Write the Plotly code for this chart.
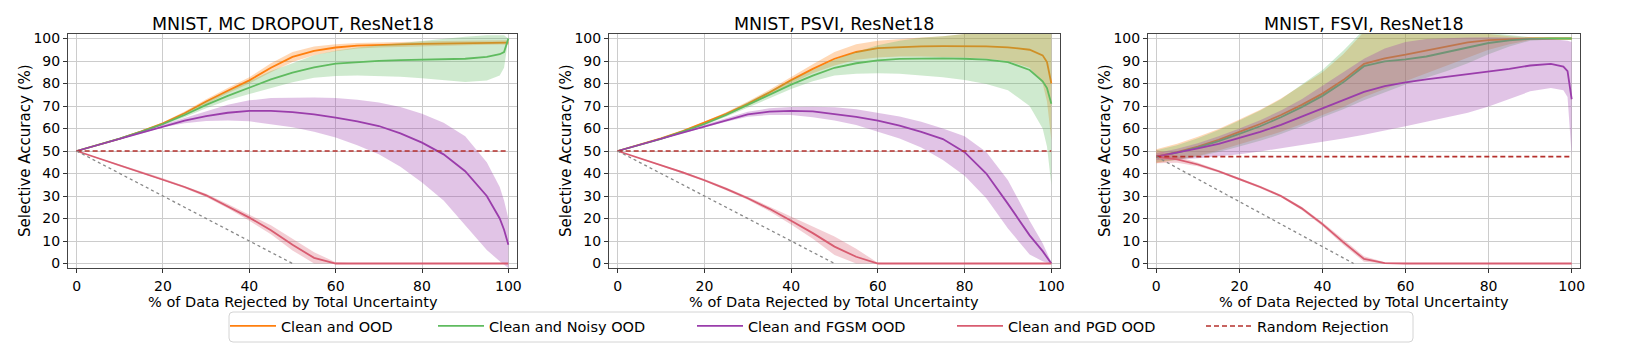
import plotly.graph_objects as go

# % of data rejected (shared x grid for all panels)
X = [0, 5, 10, 15, 20, 25, 30, 35, 40, 45, 50, 55, 60, 65, 70, 75, 80, 85, 90, 95, 98, 99, 100]

titles = ["MNIST, MC DROPOUT, ResNet18", "MNIST, PSVI, ResNet18", "MNIST, FSVI, ResNet18"]
series_names = ["Clean and OOD", "Clean and Noisy OOD", "Clean and FGSM OOD", "Clean and PGD OOD"]
random_name = "Random Rejection"
random_level = [50, 50, 47.5]

# ---- MC dropout ----
mc_ood = [50, 52.7, 55.5, 58.7, 62.3, 66.8, 72, 76.8, 81.4, 87, 91.8, 94.5, 96, 96.8, 97.2, 97.4, 97.6, 97.8, 98, 98.2, 98.2, 98.1, 98.2]
mc_ood_lo = [50, 52.5, 55.2, 58.3, 61.8, 66, 71, 75.7, 80, 85, 89.5, 92.5, 94.3, 95.5, 96, 96.3, 96.5, 96.7, 97, 97.2, 97.3, 97.2, 97.2]
mc_ood_hi = [50, 52.9, 55.8, 59.1, 62.8, 67.5, 73, 78, 82.8, 89, 94, 96.5, 97.5, 98, 98.3, 98.5, 98.7, 98.9, 99, 99.1, 99.2, 99.1, 99.2]
mc_noisy = [50, 52.7, 55.5, 58.6, 62, 66, 70.5, 74.5, 78.1, 81.8, 84.8, 87.2, 88.8, 89.6, 90.1, 90.4, 90.7, 90.8, 91, 91.8, 93, 94, 100]
mc_noisy_lo = [50, 52.5, 55.2, 58.2, 61.5, 65, 69, 72.5, 75.3, 78, 80.5, 82.5, 83.3, 83.5, 83.4, 83, 82.3, 81.5, 80.7, 81.3, 83.5, 87, 100]
mc_noisy_hi = [50, 52.9, 55.8, 59, 62.5, 67, 72, 76.5, 81, 85.5, 89, 92.5, 94.5, 96, 97, 98, 99, 100, 100.8, 101.5, 101.5, 101.5, 100]
mc_fgsm = [50, 52.7, 55.5, 58.3, 61, 63.5, 65.5, 67, 67.8, 67.8, 67.3, 66.3, 64.8, 63.2, 61.1, 57.8, 53.7, 48.5, 41, 30, 20, 15, 8.3]
mc_fgsm_lo = [50, 52.5, 55.1, 57.8, 60.5, 62.3, 63.3, 63.5, 63.2, 62, 60.5, 58.5, 56, 52.5, 48.5, 43, 36, 28, 17, 6, 1, -0.5, -2]
mc_fgsm_hi = [50, 52.9, 55.9, 58.8, 61.5, 64.5, 67.5, 70.5, 72.5, 73.5, 73.7, 73.8, 73.5, 72.8, 71.5, 69.5, 66.5, 62.5, 56.5, 45, 34, 28, 20]
mc_pgd = [50, 46.8, 43.5, 40.5, 37.4, 34, 30.3, 25.5, 20.4, 14.8, 8.3, 2.5, 0, 0, 0, 0, 0, 0, 0, 0, 0, 0, 0]
mc_pgd_lo = [50, 46.5, 43.1, 40, 36.9, 33.4, 29.6, 24.6, 19, 13, 5.8, 0, 0, 0, 0, 0, 0, 0, 0, 0, 0, 0, 0]
mc_pgd_hi = [50, 47.1, 43.9, 41, 37.9, 34.6, 31, 26.4, 21.8, 17, 11, 5, 0.5, 0, 0, 0, 0, 0, 0, 0, 0, 0, 0]

# ---- PSVI ----
ps_ood = [50, 52.7, 55.6, 58.8, 62.5, 66.5, 71, 76, 81.5, 86.5, 91, 94, 95.7, 96.2, 96.5, 96.6, 96.6, 96.5, 96.1, 95, 92.5, 89.5, 80]
ps_ood_lo = [50, 52.5, 55.3, 58.4, 62, 65.8, 70, 74.8, 80, 84.5, 88, 90.5, 91.5, 92, 92, 91.8, 91.5, 91, 90, 87, 80, 72, 55]
ps_ood_hi = [50, 52.9, 55.9, 59.2, 63, 67.2, 72, 77.2, 83, 88.5, 94, 97.5, 99, 99.8, 100.5, 101, 102, 103, 103, 103, 103, 103, 103]
ps_noisy = [50, 52.6, 55.4, 58.6, 62, 66, 70.5, 75, 79.5, 83.5, 87, 89, 90.3, 90.9, 91.1, 91.2, 91, 90.6, 89.5, 86, 81, 78, 71]
ps_noisy_lo = [50, 52.4, 55.1, 58.2, 61.5, 65.2, 69.3, 73.5, 77.5, 81, 83.5, 84.3, 84.5, 84.3, 83.7, 82.8, 81.5, 79.8, 77, 70, 60, 52, 35]
ps_noisy_hi = [50, 52.8, 55.7, 59, 62.5, 66.8, 71.7, 76.5, 81.5, 86, 90.5, 94, 97, 99, 100.3, 101, 102, 102, 102, 102, 102, 102, 102]
ps_fgsm = [50, 52.7, 55.5, 58.3, 61, 63.8, 66.3, 67.5, 67.8, 67.6, 66.5, 65.2, 63.5, 61.3, 58.5, 55.3, 49.5, 40, 26.5, 12.5, 5.5, 3, 0]
ps_fgsm_lo = [50, 52.5, 55.2, 57.9, 60.5, 63, 65.2, 66, 66, 65, 63.5, 61.5, 58.5, 55.5, 51.5, 46, 39, 29, 15.5, 4, 1, 0.3, 0]
ps_fgsm_hi = [50, 52.9, 55.8, 58.7, 61.5, 64.6, 67.4, 69, 69.6, 69.7, 69.4, 68.5, 67, 65.3, 63, 60, 56.5, 49.5, 37, 19, 9, 5, 0.5]
ps_pgd = [50, 46.8, 43.8, 40.5, 37, 33.2, 29, 24.3, 19, 13.5, 7.5, 3, 0, 0, 0, 0, 0, 0, 0, 0, 0, 0, 0]
ps_pgd_lo = [50, 46.6, 43.5, 40.1, 36.5, 32.6, 28.3, 23.2, 17.3, 11, 3.8, 0, 0, 0, 0, 0, 0, 0, 0, 0, 0, 0, 0]
ps_pgd_hi = [50, 47, 44.1, 40.9, 37.5, 33.8, 29.7, 25.3, 20.7, 16.5, 12, 6.5, 0.3, 0, 0, 0, 0, 0, 0, 0, 0, 0, 0]

# ---- FSVI ----
fs_ood = [47.5, 49.5, 52, 55, 58.5, 62, 66, 70.5, 75.5, 81.5, 88.7, 91.2, 92.8, 94.7, 96.5, 98.3, 99.3, 99.8, 100, 100, 100, 100, 100]
fs_ood_lo = [44.5, 46, 47.8, 50.2, 53, 55.7, 58.5, 62, 66, 69.5, 74, 77.5, 81, 84.5, 88, 91.5, 95, 97.5, 99.3, 99.7, 99.7, 99.7, 99.7]
fs_ood_hi = [50.8, 53.2, 56.3, 59.8, 64, 68.3, 73.3, 79, 85, 93, 103, 105, 105, 105, 104, 103, 102, 101, 100.5, 100.3, 100.3, 100.3, 100.3]
fs_noisy = [47.5, 49.3, 51.6, 54.4, 57.6, 61, 65, 69.5, 74.5, 80.5, 87.7, 89.8, 90.7, 92, 94, 96, 98, 99.2, 99.8, 100, 100, 100, 100]
fs_noisy_lo = [45, 46, 47.5, 49.5, 52, 54.5, 57.5, 61, 65, 68.5, 72.5, 76, 79.5, 82.5, 85.5, 89, 93, 96.5, 99, 99.6, 99.6, 99.6, 99.6]
fs_noisy_hi = [50.3, 52.6, 55.7, 59.3, 63.5, 68, 73, 79.5, 86, 94.5, 104, 106, 106, 106, 105, 104, 102.5, 101.5, 100.6, 100.4, 100.4, 100.4, 100.4]
fs_fgsm = [47.5, 49.2, 51.2, 53.2, 55.7, 58.5, 61.6, 65.3, 69, 72.8, 76.3, 78.8, 80.5, 81.8, 83, 84, 85.4, 86.5, 88, 88.7, 87.5, 85.5, 73]
fs_fgsm_lo = [46, 46.2, 46.8, 47.6, 48.6, 49.8, 51.2, 52.6, 54, 55.5, 57.2, 59, 61, 63, 65, 67, 69.8, 73, 76.5, 78, 77, 74, 48]
fs_fgsm_hi = [49, 51, 53.4, 56.5, 60, 63.7, 68, 73, 79, 85, 91, 95.5, 98.5, 99.8, 100.3, 100.5, 100.6, 100.5, 100.3, 99.8, 99.3, 99, 98.5]
fs_pgd = [47.5, 46.3, 44, 41, 37.5, 34, 30, 24.5, 17.5, 9.5, 2, 0.2, 0, 0, 0, 0, 0, 0, 0, 0, 0, 0, 0]
fs_pgd_lo = [44.5, 44.8, 43.2, 40.4, 37, 33.4, 29.4, 23.8, 16.7, 8.3, 0.8, 0, 0, 0, 0, 0, 0, 0, 0, 0, 0, 0, 0]
fs_pgd_hi = [50.5, 47.8, 44.8, 41.6, 38, 34.6, 30.6, 25.2, 18.3, 10.7, 3.2, 0.5, 0.2, 0, 0, 0, 0, 0, 0, 0, 0, 0, 0]

panels = [
    [(mc_ood, mc_ood_lo, mc_ood_hi), (mc_noisy, mc_noisy_lo, mc_noisy_hi),
     (mc_fgsm, mc_fgsm_lo, mc_fgsm_hi), (mc_pgd, mc_pgd_lo, mc_pgd_hi)],
    [(ps_ood, ps_ood_lo, ps_ood_hi), (ps_noisy, ps_noisy_lo, ps_noisy_hi),
     (ps_fgsm, ps_fgsm_lo, ps_fgsm_hi), (ps_pgd, ps_pgd_lo, ps_pgd_hi)],
    [(fs_ood, fs_ood_lo, fs_ood_hi), (fs_noisy, fs_noisy_lo, fs_noisy_hi),
     (fs_fgsm, fs_fgsm_lo, fs_fgsm_hi), (fs_pgd, fs_pgd_lo, fs_pgd_hi)],
]

colors = ["#ff7f0e", "#5fbb5f", "#9a3dab", "#d85c70"]
fills = ["rgba(255,127,14,0.3)", "rgba(95,187,95,0.3)", "rgba(154,61,171,0.3)", "rgba(216,92,112,0.3)"]
random_color = "#b5302c"

# the page body has an 8px margin, so the figure is placed 8px in and shrunk to fit
OFF = 8
W, H = 1644 - OFF, 349 - OFF
frames = [(68, 517), (609, 1060), (1148, 1580)]
y_top, y_bot = 34, 268
font = "DejaVu Sans"
# left edge of each legend handle (page pixels), one legend per entry like matplotlib's columns
legend_starts = [235, 443, 702, 962, 1211]


def px(v):
    return (v - OFF) / W


def py(v):
    return 1 - (v - OFF) / H


def lg(i):
    return "legend" if i == 0 else "legend%d" % (i + 1)


fig = go.Figure()
for p, data in enumerate(panels):
    xa = "x" if p == 0 else "x%d" % (p + 1)
    ya = "y" if p == 0 else "y%d" % (p + 1)
    for s, (mean, lo, hi) in enumerate(data):
        fig.add_trace(go.Scatter(x=X, y=lo, xaxis=xa, yaxis=ya, mode="lines",
                                 line=dict(width=0), showlegend=False, hoverinfo="skip"))
        fig.add_trace(go.Scatter(x=X, y=hi, xaxis=xa, yaxis=ya, mode="lines",
                                 line=dict(width=0), fill="tonexty", fillcolor=fills[s],
                                 showlegend=False, hoverinfo="skip"))
        fig.add_trace(go.Scatter(x=X, y=mean, xaxis=xa, yaxis=ya, mode="lines",
                                 line=dict(color=colors[s], width=1.8),
                                 name=series_names[s], showlegend=(p == 0), legend=lg(s)))
    r = random_level[p]
    fig.add_trace(go.Scatter(x=[0, 100], y=[r, r], xaxis=xa, yaxis=ya, mode="lines",
                             line=dict(color=random_color, width=1.6, dash="5px,3px"),
                             name=random_name, showlegend=(p == 0), legend=lg(4)))
    fig.add_trace(go.Scatter(x=[0, r], y=[r, 0], xaxis=xa, yaxis=ya, mode="lines",
                             line=dict(color="#888888", width=1.3, dash="dot"),
                             showlegend=False, hoverinfo="skip"))

axis_common = dict(showline=True, mirror=True, linecolor="#444444", linewidth=1,
                   showgrid=True, gridcolor="#cccccc", gridwidth=1, zeroline=False,
                   ticks="outside", ticklen=4, tickcolor="#333333", automargin=False,
                   tickfont=dict(family=font, size=14, color="black"))

layout = dict(width=W, height=H, margin=dict(l=0, r=0, t=0, b=0, autoexpand=False),
              plot_bgcolor="white", paper_bgcolor="white",
              font=dict(family=font, color="black"),
              annotations=[], shapes=[])

for i, start in enumerate(legend_starts):
    layout[lg(i)] = dict(orientation="h", x=px(start - 10), xanchor="left", y=py(326), yanchor="middle",
                         bgcolor="rgba(0,0,0,0)", borderwidth=0,
                         font=dict(family=font, size=14.5), itemwidth=46)

# legend frame (rounded corners as in the matplotlib legend)
x0, x1, y0, y1, rad = px(229), px(1413), py(312), py(342), 4
rx, ry = rad / W, rad / H
layout["shapes"].append(dict(
    type="path", xref="paper", yref="paper", line=dict(color="#d4d4d4", width=1),
    path=(f"M{x0 + rx},{y0} L{x1 - rx},{y0} Q{x1},{y0} {x1},{y0 - ry} "
          f"L{x1},{y1 + ry} Q{x1},{y1} {x1 - rx},{y1} L{x0 + rx},{y1} Q{x0},{y1} {x0},{y1 + ry} "
          f"L{x0},{y0 - ry} Q{x0},{y0} {x0 + rx},{y0} Z")))

for p, (l, r) in enumerate(frames):
    sfx = "" if p == 0 else str(p + 1)
    layout["xaxis" + sfx] = dict(axis_common, domain=[px(l), px(r)], range=[-2, 102],
                                 tickvals=[0, 20, 40, 60, 80, 100], ticklabelstandoff=1,
                                 anchor="y" + sfx)
    layout["yaxis" + sfx] = dict(axis_common, domain=[py(y_bot), py(y_top)], range=[-2, 102],
                                 tickvals=list(range(0, 101, 10)),
                                 anchor="x" + sfx)
    cx = px((l + r) / 2)
    layout["annotations"].append(dict(text=titles[p], x=cx, y=py(24), xref="paper", yref="paper",
                                      showarrow=False, font=dict(family=font, size=17.5),
                                      xanchor="center", yanchor="middle"))
    layout["annotations"].append(dict(text="% of Data Rejected by Total Uncertainty", x=cx, y=py(302),
                                      xref="paper", yref="paper", showarrow=False,
                                      font=dict(family=font, size=14.5), xanchor="center", yanchor="middle"))
    layout["annotations"].append(dict(text="Selective Accuracy (%)", x=px(l - 43),
                                      y=py((y_top + y_bot) / 2), xref="paper", yref="paper",
                                      showarrow=False, textangle=-90,
                                      font=dict(family=font, size=15), xanchor="center", yanchor="middle"))

fig.update_layout(**layout)
fig.write_html("out.html")
